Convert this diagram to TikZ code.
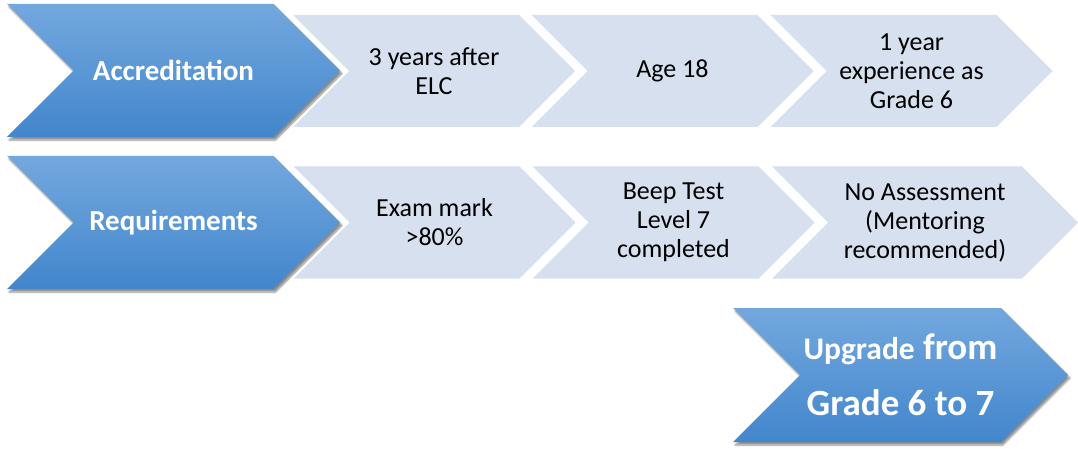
\documentclass[tikz,border=0pt]{standalone}
\usepackage{fontspec}
\setmainfont{Carlito}
\usepackage{tikz}
\usetikzlibrary{shapes.symbols,shadows.blur}
\definecolor{headtop}{RGB}{115,168,222}
\definecolor{headbot}{RGB}{66,134,204}
\definecolor{itemfill}{RGB}{214,224,238}

\begin{document}
\begin{tikzpicture}[x=1pt,y=-1pt,
            every node/.style={shape=signal,signal from=west,signal to=east,
            inner sep=0pt,align=center}]
        \tikzstyle{head}=[top color=headtop,bottom color=headbot,text=white,
            font=\fontsize{29}{35}\selectfont\bfseries,
            minimum width=333pt,minimum height=133pt,
            blur shadow={shadow xshift=2pt,shadow yshift=-3pt,shadow blur steps=6,shadow opacity=45}]
        \tikzstyle{item}=[fill=itemfill,text=black,font=\fontsize{26}{29}\selectfont,
            minimum width=282pt,minimum height=112pt]

        \useasboundingbox (0,0) rectangle (1078,449);

        % accreditation row
        \node[item] (a1) at (434,71) {3 years after\\ELC};
        \node[item] (a2) at (672.5,71) {Age 18};
        \node[item] (a3) at (911.5,71) {1 year\\experience as\\Grade 6};
        \node[head] (acc) at (173.5,70.5) {Accreditation};

        % requirements row
        \node[item] (r1) at (434.5,222.5) {Exam mark\\>80\%};
        \node[item] (r2) at (673.5,222.5) {Beep Test\\Level 7\\completed};
        \node[item, minimum width=306pt] (r3) at (925,222.5) {No Assessment\\(Mentoring\\recommended)};
        \node[head] (req) at (173.5,222.5) {Requirements};

        \node[head, minimum width=335pt, minimum height=134pt,
            font=\fontsize{37}{56}\selectfont\bfseries] (up) at (900.5,375)
            {{\fontsize{31.5}{56}\selectfont Upgrade} from\\Grade 6 to 7};
    \end{tikzpicture}
\end{document}
